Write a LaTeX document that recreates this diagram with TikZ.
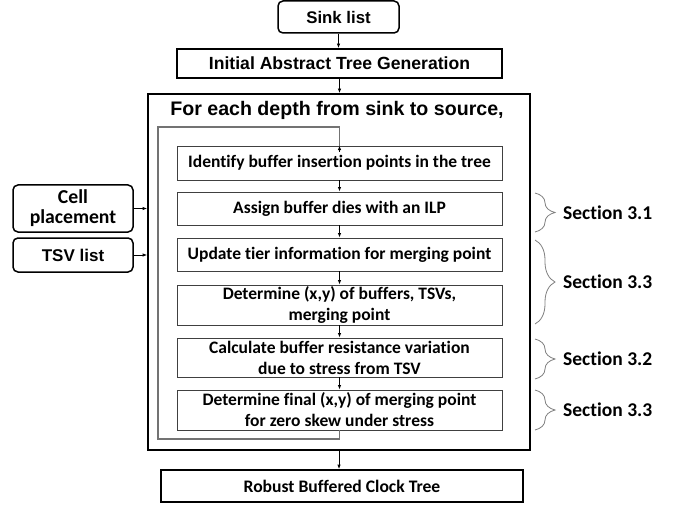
\documentclass[tikz,border=0pt]{standalone}
\usepackage{fontspec}
\setmainfont{Liberation Sans}
\newfontfamily\calib[Ligatures=NoCommon]{Carlito}
\usetikzlibrary{arrows.meta,decorations.pathreplacing}
\begin{document}
\begin{tikzpicture}[x=1pt,y=-1pt,
  arr/.style={-{Latex[length=4.5pt,width=3.5pt]},line width=0.8pt,black},
  thickbox/.style={draw=black,line width=1.8pt,inner sep=0pt,align=center,font=\bfseries\fontsize{17.6}{20}\selectfont},
  roundbox/.style={thickbox,rounded corners=5pt,line width=1.5pt},
  innerbox/.style={draw=black!75,line width=0.9pt,inner sep=0pt,align=center,minimum width=325pt,font=\calib\bfseries\fontsize{17.5}{21}\selectfont},
  loopline/.style={draw=black!55,line width=1.3pt},
  secbrace/.style={draw=black!50,line width=0.8pt,decorate,decoration={brace,amplitude=20pt}},
  seclabel/.style={anchor=west,inner sep=0pt,font=\calib\bfseries\fontsize{19.5}{22}\selectfont}]
\useasboundingbox (0,0) rectangle (674,505);
\fill[white] (0,0) rectangle (674,505);

\node[roundbox,minimum width=121pt,minimum height=32pt,font=\bfseries\fontsize{16.8}{20}\selectfont] (sink) at (338.5,17) {Sink list};
\node[thickbox,minimum width=325pt,minimum height=29pt] (init) at (339.5,63.5) {Initial Abstract Tree Generation};
\node[thickbox,minimum width=382pt,minimum height=356pt] (big) at (339,272) {};
\node[inner sep=0pt,font=\bfseries\fontsize{19.6}{22}\selectfont] (title) at (337,110) {For each depth from sink to source,};

\node[innerbox,minimum height=34pt] (b1) at (339.5,163) {Identify buffer insertion points in the tree};
\node[innerbox,minimum height=33pt] (b2) at (339.5,208.5) {Assign buffer dies with an ILP};
\node[innerbox,minimum height=33pt] (b3) at (339.5,254.5) {Update tier information for merging point};
\node[innerbox,minimum height=40pt] (b4) at (339.5,305) {Determine (x,y) of buffers, TSVs,\\merging point};
\node[innerbox,minimum height=39pt] (b5) at (339.5,357.5) {Calculate buffer resistance variation\\due to stress from TSV};
\node[innerbox,minimum height=40pt] (b6) at (339.5,410) {Determine final (x,y) of merging point\\for zero skew under stress};

\node[roundbox,minimum width=120pt,minimum height=47pt,font=\calib\bfseries\fontsize{19.7}{20}\selectfont] (cell) at (73,208.5) {Cell\\placement};
\node[roundbox,minimum width=120pt,minimum height=34pt,font=\bfseries\fontsize{17}{20}\selectfont] (tsv) at (73,255) {TSV list};

\node[thickbox,minimum width=362pt,minimum height=32pt,font=\calib\bfseries\fontsize{17.6}{20}\selectfont] (robust) at (342,486) {Robust Buffered Clock Tree};

% main flow
\draw[arr] (sink.south) -- (sink.south |- init.north);
\draw[arr] (init.south) -- (init.south |- big.north);
\draw[arr] (b1) -- (b2);
\draw[arr] (b2) -- (b3);
\draw[arr] (b3) -- (b4);
\draw[arr] (b4) -- (b5);
\draw[arr] (b5) -- (b6);
\draw[arr] (big.south -| robust.north) ++(-3,0) coordinate (bs) -- (bs |- robust.north);
\draw[arr] (cell.east) -- (cell.east -| big.west);
\draw[arr] (tsv.east) -- (tsv.east -| big.west);

% loop
\coordinate (lb) at (158,439);
\coordinate (lt) at (158,127);
\draw[loopline] (b6.south) |- (lb) -- (lt) -| ([yshift=-5pt]b1.north);
\draw[arr] ([yshift=-6pt]b1.north) -- (b1.north);

% braces
\coordinate (s1a) at (535,193); \coordinate (s1b) at (535,232);
\coordinate (s2a) at (535,240); \coordinate (s2b) at (535,324);
\coordinate (s3a) at (535,339); \coordinate (s3b) at (535,379);
\coordinate (s4a) at (535,390); \coordinate (s4b) at (535,430);
\draw[secbrace] (s1a) -- (s1b);
\draw[secbrace] (s2a) -- (s2b);
\draw[secbrace] (s3a) -- (s3b);
\draw[secbrace] (s4a) -- (s4b);
\node[seclabel] (l1) at (563,212.5) {Section 3.1};
\node[seclabel] (l2) at (563,282) {Section 3.3};
\node[seclabel] (l3) at (563,359) {Section 3.2};
\node[seclabel] (l4) at (563,410) {Section 3.3};
\end{tikzpicture}
\end{document}
